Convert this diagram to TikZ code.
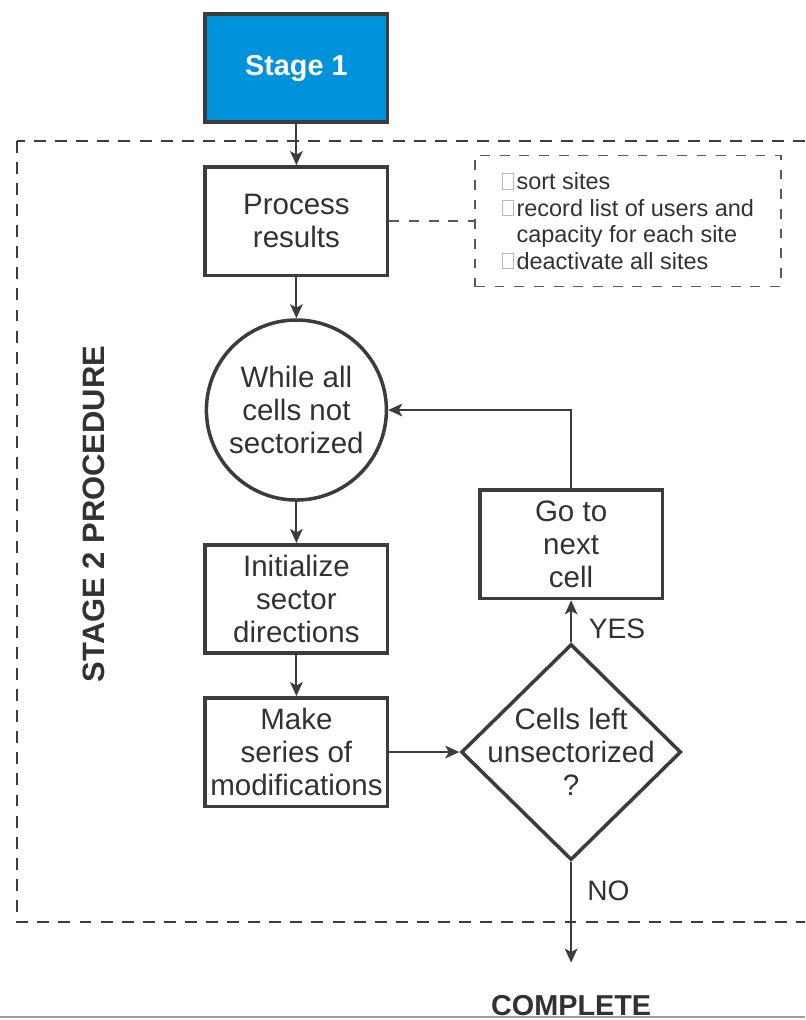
\documentclass[tikz,border=0pt]{standalone}
\usepackage{fontspec}
\setmainfont{Liberation Sans}
\usepackage{tikz}
\usetikzlibrary{shapes.geometric, arrows.meta, positioning, calc}

\definecolor{stageblue}{RGB}{0,146,218}
\definecolor{linegray}{RGB}{60,60,60}
\definecolor{textgray}{RGB}{50,50,50}

% little hollow square in front of each note line
\newcommand{\tofu}{\tikz[baseline=-0.5pt]\draw[gray!55, line width=0.5pt] (0,0) rectangle (8pt,11pt);\hspace{2pt}}

\begin{document}
\begin{tikzpicture}[
        node distance=1.03cm and 1.75cm,
        box/.style={rectangle, draw=linegray, line width=2.5pt, minimum width=4.56cm, minimum height=2.71cm, inner sep=1pt, align=center, text=textgray, font=\fontsize{21}{23.5}\selectfont},
        stagebox/.style={box, fill=stageblue, text=white, font=\bfseries\fontsize{20.5}{24}\selectfont},
        loopnode/.style={circle, draw=linegray, line width=2.5pt, minimum size=4.5cm, inner sep=1pt, align=center, text=textgray, font=\fontsize{21}{23.5}\selectfont},
        decision/.style={diamond, draw=linegray, line width=2.5pt, minimum width=5.5cm, minimum height=5.4cm, inner sep=0pt},
        plain/.style={align=center, text=textgray, font=\fontsize{21}{23.5}\selectfont},
        note/.style={rectangle, draw=linegray!85, line width=1.1pt, dash pattern=on 7pt off 7pt, minimum width=7.65cm, minimum height=3.28cm, align=left, text=textgray, font=\fontsize{16.7}{18.8}\selectfont},
        group/.style={draw=linegray, line width=1.4pt, dash pattern=on 8.5pt off 6.5pt},
        arrow/.style={-{Stealth[length=10pt, width=9pt, inset=2.5pt]}, line width=1.4pt, draw=linegray},
        notelink/.style={draw=linegray!85, line width=1.1pt, dash pattern=on 7pt off 7pt},
        edgelabel/.style={inner sep=0pt, text=textgray, font=\fontsize{20}{24}\selectfont}
    ]
        \path[use as bounding box, clip] (0,0) rectangle (20.125,-25.5);

        % Stage 2 frame
        \draw[group] (0.43,-3.52) rectangle (20.8,-23.05);
        \node[rotate=90, text=textgray, font=\bfseries\fontsize{22}{26}\selectfont] (stage2) at (2.34,-12.85) {STAGE 2 PROCEDURE};

        % Main column
        \node[stagebox] (stage1) at (7.41,-1.7) {Stage 1};
        \node[box, below=of stage1] (process) {Process\\results};
        \node[loopnode, below=of process] (loop) {While all\\cells not\\sectorized};
        \node[box, below=of loop] (init) {Initialize\\sector\\directions};
        \node[box, below=of init] (modify) {Make\\series of\\modifications};

        % Notes on processing
        \node[note, right=2.12cm of process] (notes) {\tofu sort sites\\
            \tofu record list of users and\\
            \hphantom{\tofu}capacity for each site\\
            \tofu deactivate all sites};

        % Decision and loop back
        \node[decision, right=of modify] (check) {};
        \node[plain] (checktext) at (check) {Cells left\\unsectorized\\?};
        \node[box, above=1.05cm of check] (next) {Go to\\next\\cell};

        % Connections
        \draw[arrow] (stage1) -- (process);
        \draw[arrow] (process) -- (loop);
        \draw[arrow] (loop) -- (init);
        \draw[arrow] (init) -- (modify);
        \draw[arrow] (modify) -- (check);
        \draw[arrow] (check) -- (next) node[pos=0.33, right=0.42cm, edgelabel] {YES};
        \draw[arrow] (next.north) |- (loop.east);
        \draw[notelink] (process) -- (notes);

        % Exit
        \coordinate[below=2.52cm of check.south] (finish);
        \draw[arrow] (check) -- (finish) node[pos=0.29, right=0.38cm, edgelabel] {NO};
        \node[below=0.8cm of finish, inner sep=0pt, text=textgray, font=\bfseries\fontsize{20.5}{24}\selectfont] (complete) {COMPLETE};
        \draw[line width=1.4pt, gray!75] (0,-25.43) -- (20.125,-25.43);

    \end{tikzpicture}
\end{document}
